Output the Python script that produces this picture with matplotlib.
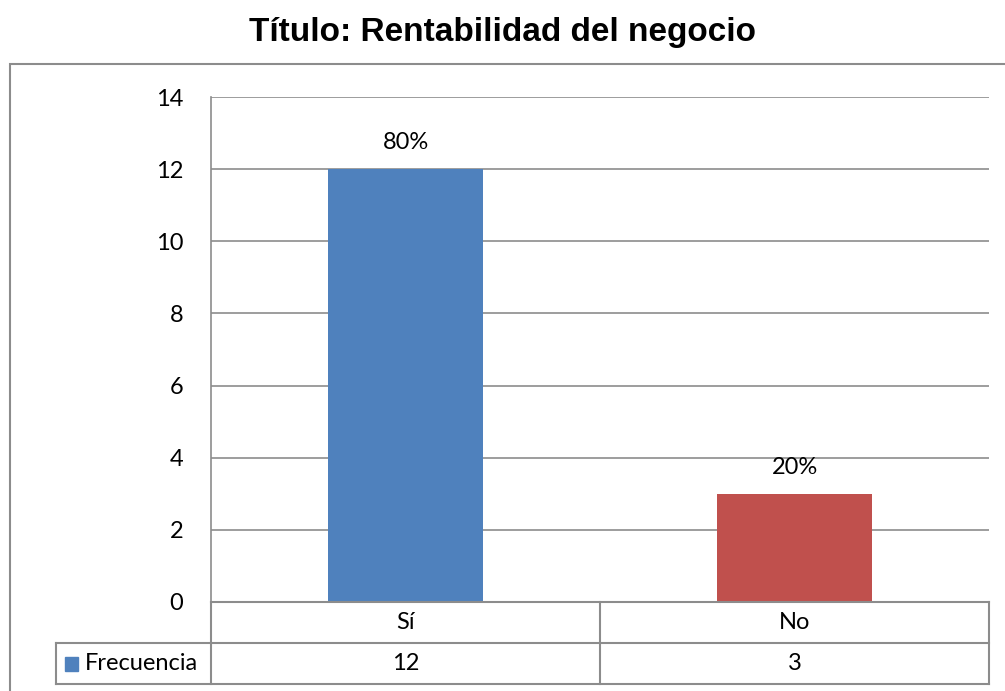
import matplotlib.pyplot as plt
from matplotlib.lines import Line2D
from matplotlib.patches import Rectangle

categorias = ['Sí', 'No']
frecuencia = [12, 3]
porcentajes = ['80%', '20%']
colores = ['#4F81BD', '#C0504D']
serie = 'Frecuencia'

W, H = 1005, 691
fig = plt.figure(figsize=(W / 100, H / 100), dpi=100)
plt.rcParams['font.family'] = ['Lato', 'DejaVu Sans']
fs = 17

def fx(px):
    return px / W

def fy(py):
    return 1 - py / H

gris = '#8C8C8C'

# marco exterior del grafico
fig.add_artist(Rectangle((fx(10), fy(1000)), fx(1100), fy(64) - fy(1000),
                         fill=False, edgecolor=gris, lw=1.5, transform=fig.transFigure))

left, right, top, bottom = 211, 989, 97, 602
ax = fig.add_axes([fx(left), fy(bottom), fx(right - left), fy(top) - fy(bottom)])

x = list(range(len(categorias)))
ax.bar(x, frecuencia, width=0.4, color=colores, zorder=3)
for xi, v, p in zip(x, frecuencia, porcentajes):
    ax.annotate(p, (xi, v), xytext=(0, 19), textcoords='offset points',
                ha='center', va='center', fontsize=fs)

ax.set_xlim(-0.5, len(categorias) - 0.5)
ax.set_ylim(0, 14)
ax.set_yticks(range(0, 15, 2))
ax.set_xticks([])
ax.tick_params(axis='y', length=0, labelsize=fs, pad=20)
ax.grid(axis='y', color=gris, lw=1.2, zorder=0)
for s in ['top', 'right']:
    ax.spines[s].set_visible(False)
for s in ['left', 'bottom']:
    ax.spines[s].set_color(gris)
    ax.spines[s].set_linewidth(1.2)

fig.suptitle('Título: Rentabilidad del negocio', family='Liberation Sans',
             fontweight='bold', fontsize=24, y=fy(33), va='center')

# tabla de datos bajo el eje
row1, row2, row3 = 602, 643, 684
leg_left = 56
col_w = (right - left) / len(categorias)

def hline(y, x0, x1):
    fig.add_artist(Line2D([fx(x0), fx(x1)], [fy(y), fy(y)], color=gris, lw=1.5))

def vline(xp, y0, y1):
    fig.add_artist(Line2D([fx(xp), fx(xp)], [fy(y0), fy(y1)], color=gris, lw=1.5))

hline(row1, left, right)
hline(row2, leg_left, right)
hline(row3, leg_left, right)
vline(left, row1, row3)
vline(leg_left, row2, row3)
for i in range(1, len(categorias) + 1):
    vline(left + i * col_w, row1, row3)

for i, (c, v) in enumerate(zip(categorias, frecuencia)):
    cx = fx(left + (i + 0.5) * col_w)
    fig.text(cx, fy((row1 + row2) / 2), c, ha='center', va='center', fontsize=fs)
    fig.text(cx, fy((row2 + row3) / 2), str(v), ha='center', va='center', fontsize=fs)

fig.add_artist(Rectangle((fx(65), fy(671)), fx(13), fy(657) - fy(671),
                         color=colores[0], transform=fig.transFigure))
fig.text(fx(85), fy((row2 + row3) / 2), serie, ha='left', va='center', fontsize=fs)

fig.savefig('out.png', dpi=100)
